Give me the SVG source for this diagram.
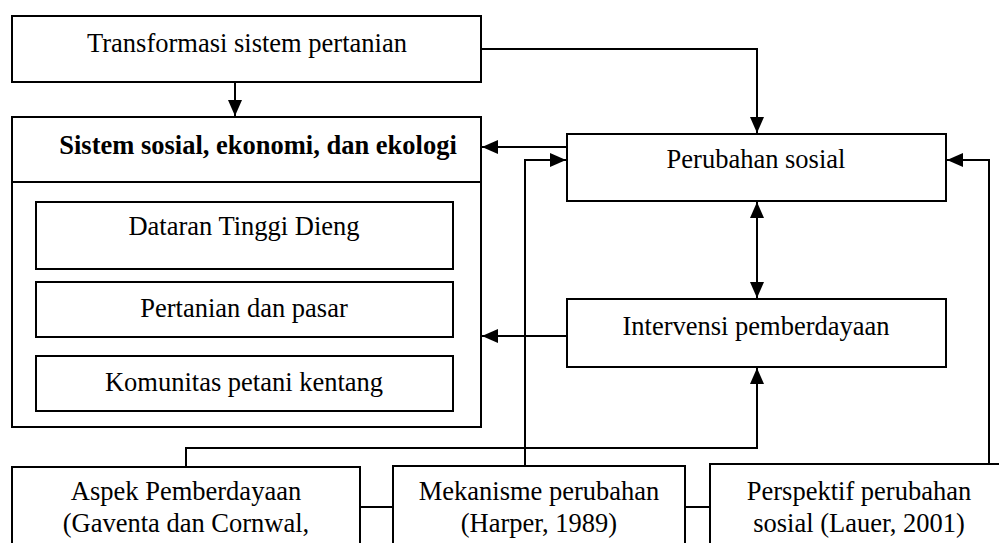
<svg xmlns="http://www.w3.org/2000/svg" width="999" height="543" viewBox="0 0 999 543">
<style>
.box{fill:#fff;stroke:#000;stroke-width:2}
.t{font-family:"Liberation Serif","Times New Roman",serif;font-size:26.5px;fill:#000;text-anchor:middle}
.b{font-weight:bold}
.c{fill:none;stroke:#000;stroke-width:2}
</style>
<defs>
<marker id="ah" markerUnits="userSpaceOnUse" markerWidth="16" markerHeight="14" refX="16" refY="7" orient="auto-start-reverse">
<path d="M0,0 L16,7 L0,14 z" fill="#000"/>
</marker>
</defs>
<rect width="999" height="543" fill="#fff"/>
<g id="connectors">
<path class="c" d="M235,82 V116" marker-end="url(#ah)"/>
<path class="c" d="M481,49 H757 V133" marker-end="url(#ah)"/>
<path class="c" d="M567,147 H482" marker-end="url(#ah)"/>
<path class="c" d="M567,336 H482" marker-end="url(#ah)"/>
<path class="c" d="M757,202 V298" marker-start="url(#ah)" marker-end="url(#ah)"/>
<path class="c" d="M186,467 V448 H757 V368" marker-end="url(#ah)"/>
<path class="c" d="M525,466 V160 H566" marker-end="url(#ah)"/>
<path class="c" d="M989,464 V160 H947" marker-end="url(#ah)"/>
<path class="c" d="M360,507 H393"/>
<path class="c" d="M685,507 H710"/>
</g>
<g id="transformasi">
<rect class="box" x="12" y="16" width="469" height="66"/>
<text class="t" x="247" y="52">Transformasi sistem pertanian</text>
</g>
<g id="sistem">
<rect class="box" x="12" y="117" width="469" height="310"/>
<line class="c" x1="12" y1="182" x2="481" y2="182"/>
<text class="t b" x="258" y="154">Sistem sosial, ekonomi, dan ekologi</text>
</g>
<g id="dieng">
<rect class="box" x="36" y="202" width="417" height="67"/>
<text class="t" x="244" y="235">Dataran Tinggi Dieng</text>
</g>
<g id="pasar">
<rect class="box" x="36" y="282" width="417" height="55"/>
<text class="t" x="244" y="317">Pertanian dan pasar</text>
</g>
<g id="komunitas">
<rect class="box" x="36" y="356" width="417" height="55"/>
<text class="t" x="244" y="391">Komunitas petani kentang</text>
</g>
<g id="perubahan">
<rect class="box" x="567" y="134" width="379" height="67"/>
<text class="t" x="756" y="168">Perubahan sosial</text>
</g>
<g id="intervensi">
<rect class="box" x="567" y="299" width="379" height="68"/>
<text class="t" x="756" y="335">Intervensi pemberdayaan</text>
</g>
<g id="aspek">
<rect class="box" x="12" y="467" width="348" height="100"/>
<text class="t" x="186" y="500">Aspek Pemberdayaan</text>
<text class="t" x="186" y="532">(Gaventa dan Cornwal,</text>
</g>
<g id="mekanisme">
<rect class="box" x="393" y="466" width="292" height="100"/>
<text class="t" x="539" y="500">Mekanisme perubahan</text>
<text class="t" x="539" y="532">(Harper, 1989)</text>
</g>
<g id="perspektif">
<rect class="box" x="710" y="464" width="310" height="100"/>
<text class="t" x="859" y="500">Perspektif perubahan</text>
<text class="t" x="859" y="532">sosial (Lauer, 2001)</text>
</g>
</svg>
